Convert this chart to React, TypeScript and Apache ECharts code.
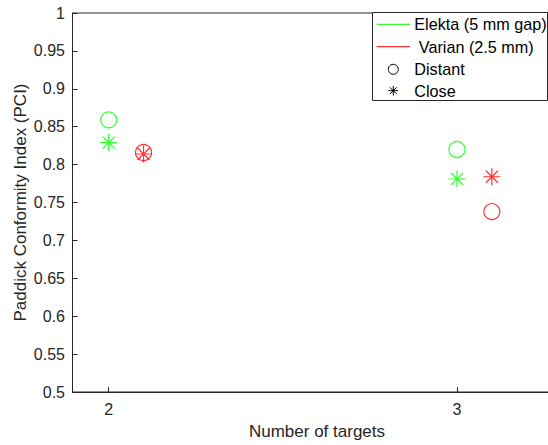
import React, { useEffect, useRef } from "react";
import * as echarts from "echarts";

const elektaTargets = [2, 3];
const varianTargets = [2.1, 3.1];
const elektaDistant = [0.859, 0.82];
const elektaClose = [0.829, 0.781];
const varianDistant = [0.816, 0.738];
const varianClose = [0.814, 0.784];
const xTicks = [2, 3];
const legendNames = ["Elekta (5 mm gap)", " Varian (2.5 mm)", "Distant", "Close"];

const GREEN = "#00ff00";
const RED = "#ff0000";
const AX = "#262626";
const FONT = "'Liberation Sans', Arial, Helvetica, sans-serif";
const STAR = "path://M0 8L16 8M8 0L8 16M2.34 2.34L13.66 13.66M2.34 13.66L13.66 2.34";

let registered = false;
function registerShapes() {
  if (registered) return;
  registered = true;
  echarts.graphic.registerShape(
    "asterisk",
    echarts.graphic.extendPath(
      "M-4.8 0L4.8 0M0 -4.8L0 4.8M-3.4 -3.4L3.4 3.4M-3.4 3.4L3.4 -3.4",
      {}
    )
  );
}

function pts(xs: number[], ys: number[]) {
  return xs.map((x, i) => [x, ys[i]]);
}

export default function App() {
  const ref = useRef<HTMLDivElement>(null);
  useEffect(() => {
    if (!ref.current) return;
    registerShapes();
    const chart = echarts.init(ref.current, null, { renderer: "svg" });
    const circleStyle = (c: string) => ({ color: "none", borderColor: c, borderWidth: 1.2 });
    const starStyle = (c: string) => ({ color: "none", borderColor: c, borderWidth: 1.2 });
    const rowY = [24.3, 46.7, 69.3, 90.7];
    const option: any = {
      animation: false,
      backgroundColor: "#fff",
      grid: {
        left: 72.5,
        top: 13,
        bottom: 53,
        width: 489,
        outerBoundsMode: "none",
        containLabel: false,
        show: true,
        borderColor: AX,
        borderWidth: 1,
        backgroundColor: "transparent",
      },
      xAxis: {
        type: "value",
        min: 1.896,
        max: 3.3,
        name: "Number of targets",
        nameLocation: "middle",
        nameGap: 31,
        nameTextStyle: { color: AX, fontSize: 17, fontFamily: FONT },
        axisLine: { lineStyle: { color: AX, width: 1 } },
        axisTick: { inside: true, length: 5, customValues: xTicks, lineStyle: { color: AX } },
        axisLabel: { customValues: xTicks, color: AX, fontSize: 16, fontFamily: FONT, margin: 9 },
        splitLine: { show: false },
      },
      yAxis: {
        type: "value",
        min: 0.5,
        max: 1,
        interval: 0.05,
        axisLine: { show: true, lineStyle: { color: AX, width: 1 } },
        axisTick: { show: true, inside: true, length: 5, lineStyle: { color: AX } },
        axisLabel: {
          color: AX,
          fontSize: 16,
          fontFamily: FONT,
          margin: 7.5,
          formatter: (v: number) => String(+v.toFixed(2)),
        },
        splitLine: { show: false },
      },
      graphic: [
        {
          type: "text",
          x: 20,
          y: 202.5,
          rotation: Math.PI / 2,
          style: {
            text: "Paddick Conformity Index (PCI)",
            fill: AX,
            fontSize: 17,
            fontFamily: FONT,
            align: "center",
            verticalAlign: "middle",
          },
        },
        {
          type: "rect",
          shape: { x: 372.5, y: 12.5, width: 175, height: 88 },
          style: { fill: "#fff", stroke: AX, lineWidth: 1 },
          z: 100,
        },
        {
          type: "line",
          shape: { x1: 376.7, y1: rowY[0], x2: 410, y2: rowY[0] },
          style: { stroke: GREEN, lineWidth: 1 },
          z: 101,
        },
        {
          type: "line",
          shape: { x1: 376.7, y1: rowY[1], x2: 410, y2: rowY[1] },
          style: { stroke: RED, lineWidth: 1 },
          z: 101,
        },
        {
          type: "circle",
          shape: { cx: 393.3, cy: rowY[2], r: 5 },
          style: { fill: "none", stroke: "#000", lineWidth: 1 },
          z: 101,
        },
        {
          type: "asterisk",
          x: 393.3,
          y: rowY[3],
          style: { fill: "none", stroke: "#000", lineWidth: 1 },
          z: 101,
        },
        ...legendNames.map((t, i) => ({
          type: "text",
          x: 414.3,
          y: rowY[i],
          style: {
            text: t,
            fill: "#000",
            fontSize: 16.2,
            fontFamily: FONT,
            align: "left",
            verticalAlign: "middle",
            whiteSpace: "pre",
          },
          z: 101,
        })),
      ],
      series: [
        {
          type: "scatter",
          name: "Elekta distant",
          data: pts(elektaTargets, elektaDistant),
          symbol: "circle",
          symbolSize: 16,
          itemStyle: circleStyle(GREEN),
        },
        {
          type: "scatter",
          name: "Elekta close",
          data: pts(elektaTargets, elektaClose),
          symbol: STAR,
          symbolSize: 17,
          itemStyle: starStyle(GREEN),
        },
        {
          type: "scatter",
          name: "Varian distant",
          data: pts(varianTargets, varianDistant),
          symbol: "circle",
          symbolSize: 16,
          itemStyle: circleStyle(RED),
        },
        {
          type: "scatter",
          name: "Varian close",
          data: pts(varianTargets, varianClose),
          symbol: STAR,
          symbolSize: 17,
          itemStyle: starStyle(RED),
        },
      ],
    };
    chart.setOption(option);
    return () => chart.dispose();
  }, []);
  return (
    <div
      ref={ref}
      style={{ position: "fixed", left: 0, top: 0, width: 548, height: 445, background: "#fff" }}
    />
  );
}
